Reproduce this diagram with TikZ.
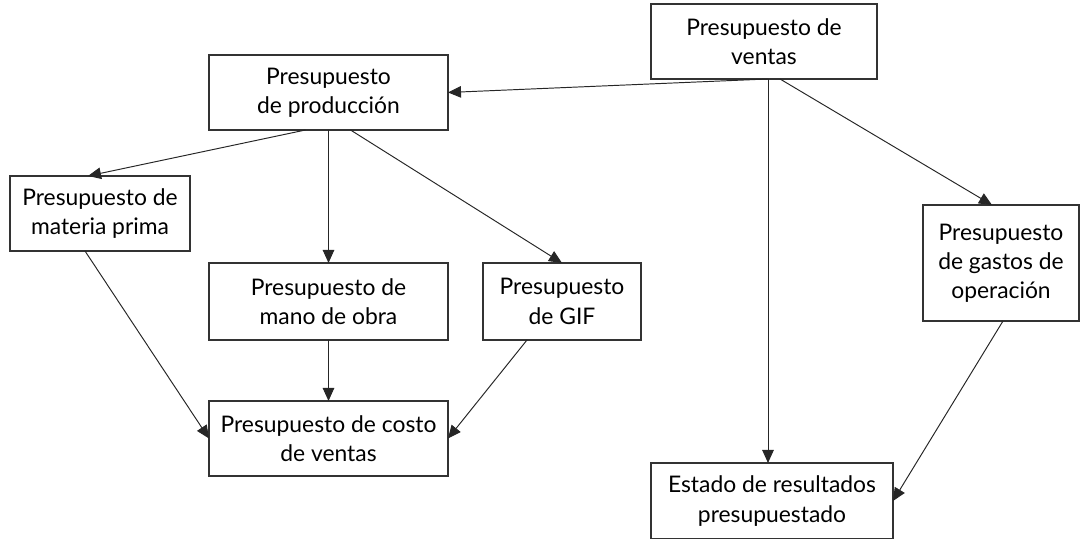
\documentclass[tikz,border=0pt]{standalone}
\usepackage{fontspec}
\setmainfont{Lato}
\usetikzlibrary{arrows.meta}

\begin{document}
\begin{tikzpicture}[
	caja/.style={draw=black!80,line width=0.85pt,align=center,inner sep=0,outer sep=0,font=\fontsize{13}{16.6}\selectfont},
	flecha/.style={draw=black!85,line width=0.55pt,-{Triangle[length=2.6mm,width=2.3mm]}}]
	\useasboundingbox (0,0) rectangle (21.62,10.78);
	\node[caja,minimum width=4.52cm,minimum height=1.5cm] (ventas) at (15.28,9.95) {Presupuesto de\\ventas};
	\node[caja,minimum width=4.78cm,minimum height=1.5cm] (prod) at (6.57,8.93) {Presupuesto\\de producción};
	\node[caja,minimum width=3.6cm,minimum height=1.5cm] (materia) at (2.0,6.51) {Presupuesto de\\materia prima};
	\node[caja,minimum width=4.78cm,minimum height=1.54cm] (mano) at (6.57,4.75) {Presupuesto de\\mano de obra};
	\node[caja,minimum width=3.16cm,minimum height=1.54cm] (gif) at (11.24,4.75) {Presupuesto\\de GIF};
	\node[caja,minimum width=4.78cm,minimum height=1.5cm] (costo) at (6.57,2.01) {Presupuesto de costo\\de ventas};
	\node[caja,minimum width=3.12cm,minimum height=2.32cm] (gastos) at (20.02,5.52) {Presupuesto\\de gastos de\\operación};
	\node[caja,minimum width=4.84cm,minimum height=1.52cm] (estado) at (15.44,0.76) {Estado de resultados\\presupuestado};
	\draw[flecha] ([xshift=0.08cm]ventas.south) -- (prod.east);
	\draw[flecha] ([xshift=0.08cm]ventas.south) -- ([xshift=0.08cm]ventas.south |- estado.north);
	\draw[flecha] ([xshift=0.32cm]ventas.south) -- ([xshift=-0.18cm]gastos.north);
	\draw[flecha] ([xshift=-0.46cm]prod.south) -- ([xshift=-0.24cm]materia.north);
	\draw[flecha] (prod.south) -- (mano.north);
	\draw[flecha] ([xshift=0.44cm]prod.south) -- (gif.north);
	\draw[flecha] ([xshift=-0.3cm]materia.south) -- (costo.west);
	\draw[flecha] (mano.south) -- (costo.north);
	\draw[flecha] ([xshift=-0.7cm]gif.south) -- (costo.east);
	\draw[flecha] ([xshift=0.04cm]gastos.south) -- (estado.east);
\end{tikzpicture}
\end{document}
